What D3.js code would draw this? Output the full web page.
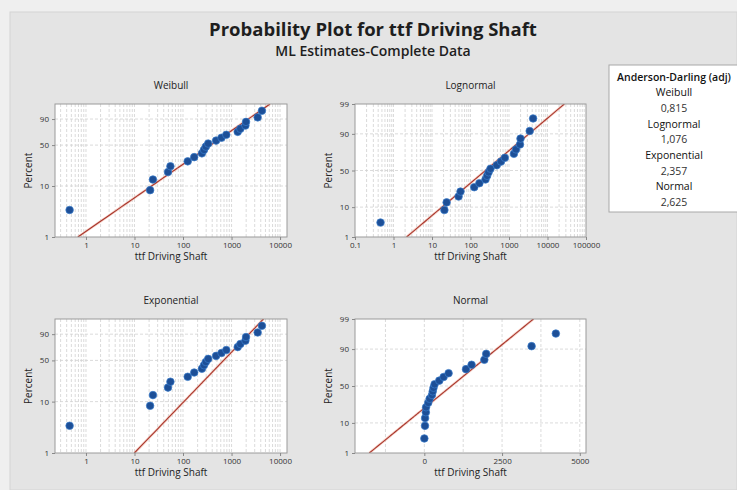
<!DOCTYPE html>
<html>
<head>
<meta charset="utf-8">
<script src="https://cdn.jsdelivr.net/npm/d3@7"></script>
<style>
  html, body { margin: 0; padding: 0; background: #efefef; }
  svg { display: block; font-family: "Open Sans", "Noto Sans", sans-serif; }
</style>
</head>
<body>
<svg id="chart" width="737" height="490"></svg>
<script>
// ---------------- data ----------------
const title = "Probability Plot for ttf Driving Shaft";
const subtitle = "ML Estimates-Complete Data";
const xLabel = "ttf Driving Shaft";
const yLabel = "Percent";

// failure times (sorted)
const ttf = [0.46, 21, 24, 49, 55, 125, 170, 245, 270, 295, 330, 480, 620, 780,
             1340, 1520, 1930, 1990, 3450, 4230];

const panelNames = ["Weibull", "Lognormal", "Exponential", "Normal"];

// fitted distribution parameters
const weibullFit = { shape: 0.672, scale: 640 };
const lognormalFit = { loc: 5.50, scale: 2.028 };
const exponentialFit = { mean: 990 };
const normalFit = { mean: 870, sd: 1135 };

// tick labels
const logTicks = [1, 10, 100, 1000, 10000];
const lognormalXTicks = [0.1, 1, 10, 100, 1000, 10000, 100000];
const normalXTicks = [0, 2500, 5000];
const normalXGrid = [-1250, 0, 1250, 2500, 3750, 5000];
const pctTicksShort = [1, 10, 50, 90];
const pctTicksLong = [1, 10, 50, 90, 99];

// Anderson-Darling legend
const adTitle = "Anderson-Darling (adj)";
const adNames = ["Weibull", "Lognormal", "Exponential", "Normal"];
const adValues = ["0,815", "1,076", "2,357", "2,625"];

// ---------------- helpers ----------------
function invNorm(p) {
  const a = [-3.969683028665376e+01, 2.209460984245205e+02, -2.759285104469687e+02, 1.383577518672690e+02, -3.066479806614716e+01, 2.506628277459239e+00];
  const b = [-5.447609879822406e+01, 1.615858368580409e+02, -1.556989798598866e+02, 6.680131188771972e+01, -1.328068155288572e+01];
  const c = [-7.784894002430293e-03, -3.223964580411365e-01, -2.400758277161838e+00, -2.549671324857222e+00, 4.374664141464968e+00, 2.938163982698783e+00];
  const d = [7.784695709041462e-03, 3.224671290700398e-01, 2.445134137142996e+00, 3.754408661907416e+00];
  const pl = 0.02425, ph = 1 - pl;
  let q, r;
  if (p < pl) { q = Math.sqrt(-2 * Math.log(p));
    return (((((c[0]*q+c[1])*q+c[2])*q+c[3])*q+c[4])*q+c[5]) / ((((d[0]*q+d[1])*q+d[2])*q+d[3])*q+1); }
  if (p <= ph) { q = p - 0.5; r = q*q;
    return (((((a[0]*r+a[1])*r+a[2])*r+a[3])*r+a[4])*r+a[5])*q / (((((b[0]*r+b[1])*r+b[2])*r+b[3])*r+b[4])*r+1); }
  q = Math.sqrt(-2 * Math.log(1 - p));
  return -(((((c[0]*q+c[1])*q+c[2])*q+c[3])*q+c[4])*q+c[5]) / ((((d[0]*q+d[1])*q+d[2])*q+d[3])*q+1);
}
const wTrans = p => Math.log(-Math.log(1 - p));
const n = ttf.length;
const points = ttf.map((v, i) => ({ x: v, p: (i + 1 - 0.3) / (n + 0.4) }));
const fitPs = d3.range(0.01, 0.99001, 0.0049);

const svg = d3.select("#chart");
const W = 737, H = 490;

// background panel
svg.append("rect").attr("x", 0).attr("y", 0).attr("width", W).attr("height", H).attr("fill", "#efefef");
svg.append("rect").attr("x", 10).attr("y", 12).attr("width", W - 10).attr("height", H - 12)
  .attr("fill", "#e4e4e4").attr("stroke", "#d4d4d4").attr("stroke-width", 1);

// titles
svg.append("text").attr("x", 373).attr("y", 36).attr("text-anchor", "middle")
  .attr("font-size", 18.5).attr("font-weight", 700).attr("fill", "#1e1e1e").text(title);
svg.append("text").attr("x", 373).attr("y", 56).attr("text-anchor", "middle")
  .attr("font-size", 14).attr("font-weight", 600).attr("fill", "#1e1e1e").text(subtitle);

// panel definitions
const panels = [
  { name: panelNames[0], box: { l: 55, r: 287, t: 104, b: 237 },
    xScale: d3.scaleLog().domain([0.23, 13900]), xTicks: logTicks, xGrid: "log",
    yKind: "w", yTicks: pctTicksShort,
    inv: p => weibullFit.scale * Math.pow(-Math.log(1 - p), 1 / weibullFit.shape) },
  { name: panelNames[1], box: { l: 355, r: 586, t: 104, b: 237 },
    xScale: d3.scaleLog().domain([0.1, 100000]), xTicks: lognormalXTicks, xGrid: "log",
    yKind: "z", yTicks: pctTicksLong,
    inv: p => Math.exp(lognormalFit.loc + lognormalFit.scale * invNorm(p)) },
  { name: panelNames[2], box: { l: 55, r: 287, t: 319, b: 453 },
    xScale: d3.scaleLog().domain([0.23, 13900]), xTicks: logTicks, xGrid: "log",
    yKind: "w", yTicks: pctTicksShort,
    inv: p => exponentialFit.mean * (-Math.log(1 - p)) },
  { name: panelNames[3], box: { l: 355, r: 586, t: 319, b: 453 },
    xScale: d3.scaleLinear().domain([-2230, 5200]), xTicks: normalXTicks, xGrid: normalXGrid,
    yKind: "z", yTicks: pctTicksLong,
    inv: p => normalFit.mean + normalFit.sd * invNorm(p) }
];

panels.forEach(P => {
  const { l, r, t, b } = P.box;
  const g = svg.append("g");
  const x = P.xScale.range([l, r]);
  const tr = P.yKind === "w" ? wTrans : invNorm;
  const yT = d3.scaleLinear().domain([tr(0.01), tr(0.99)]).range([b, t]);
  const y = pct => yT(tr(pct / 100));

  // panel title
  g.append("text").attr("x", (l + r) / 2).attr("y", t - 15).attr("text-anchor", "middle")
    .attr("font-size", 10).attr("fill", "#222").text(P.name);

  // plot area
  g.append("rect").attr("x", l).attr("y", t).attr("width", r - l).attr("height", b - t)
    .attr("fill", "#ffffff");

  // vertical gridlines
  let gridVals = [];
  if (P.xGrid === "log") {
    const [d0, d1] = x.domain();
    for (let k = -2; k <= 6; k++) for (let m = 1; m <= 9; m++) {
      const v = m * Math.pow(10, k);
      if (v > d0 && v < d1) gridVals.push(v);
    }
  } else gridVals = P.xGrid;
  g.append("g").selectAll("line").data(gridVals).join("line")
    .attr("x1", d => x(d)).attr("x2", d => x(d)).attr("y1", t).attr("y2", b)
    .attr("stroke", "#d2d2d2").attr("stroke-width", 0.8).attr("stroke-dasharray", "3,2");
  // horizontal gridlines
  g.append("g").selectAll("line").data(P.yTicks.filter(v => v > 1 && v < 99)).join("line")
    .attr("x1", l).attr("x2", r).attr("y1", d => y(d)).attr("y2", d => y(d))
    .attr("stroke", "#d2d2d2").attr("stroke-width", 0.8).attr("stroke-dasharray", "3,2");

  // fitted line
  const line = d3.line().x(d => x(P.inv(d))).y(d => yT(tr(d)));
  const clipId = "clip" + P.name;
  g.append("clipPath").attr("id", clipId).append("rect")
    .attr("x", l).attr("y", t).attr("width", r - l).attr("height", b - t);
  g.append("path").datum(fitPs).attr("d", line).attr("fill", "none")
    .attr("stroke", "#f2b8a8").attr("stroke-width", 2.6).attr("opacity", 0.6)
    .attr("clip-path", `url(#${clipId})`);
  g.append("path").datum(fitPs).attr("d", line).attr("fill", "none")
    .attr("stroke", "#a8362c").attr("stroke-width", 1.1)
    .attr("clip-path", `url(#${clipId})`);

  // points
  g.append("g").selectAll("circle").data(points).join("circle")
    .attr("cx", d => x(d.x)).attr("cy", d => yT(tr(d.p))).attr("r", 3.8)
    .attr("fill", "#1d4f97").attr("stroke", "#3a7ccb").attr("stroke-width", 0.7);

  // frame
  g.append("rect").attr("x", l).attr("y", t).attr("width", r - l).attr("height", b - t)
    .attr("fill", "none").attr("stroke", "#9a9a9a").attr("stroke-width", 1);

  // axes
  const fmt = d => d >= 1 || d === 0 ? d3.format("")(d) : String(d);
  const xAxis = d3.axisBottom(x).tickValues(P.xTicks).tickFormat(fmt).tickSize(3).tickPadding(2);
  const gx = g.append("g").attr("transform", `translate(0,${b})`).call(xAxis);
  gx.select(".domain").remove();
  gx.selectAll("line").attr("stroke", "#888");
  gx.selectAll("text").attr("font-size", 8).attr("fill", "#333").attr("font-family", "Open Sans, sans-serif");

  const yAxis = d3.axisLeft(yT).tickValues(P.yTicks.map(v => tr(v / 100)))
    .tickFormat((d, i) => P.yTicks[i]).tickSize(3).tickPadding(3);
  const gy = g.append("g").attr("transform", `translate(${l},0)`).call(yAxis);
  gy.select(".domain").remove();
  gy.selectAll("line").attr("stroke", "#888");
  gy.selectAll("text").attr("font-size", 8).attr("fill", "#333").attr("font-family", "Open Sans, sans-serif");

  // axis labels
  g.append("text").attr("x", (l + r) / 2).attr("y", b + 23).attr("text-anchor", "middle")
    .attr("font-size", 10).attr("fill", "#222").text(xLabel);
  g.append("text").attr("transform", `translate(${l - 23},${(t + b) / 2}) rotate(-90)`)
    .attr("text-anchor", "middle").attr("font-size", 10).attr("fill", "#222").text(yLabel);
});

// legend box
const lg = svg.append("g");
lg.append("rect").attr("x", 609).attr("y", 65).attr("width", 140).attr("height", 147)
  .attr("fill", "#ffffff").attr("stroke", "#a8a8a8").attr("stroke-width", 1);
const lines = [adTitle];
adNames.forEach((nm, i) => { lines.push(nm); lines.push(adValues[i]); });
lg.selectAll("text").data(lines).join("text")
  .attr("x", 674).attr("y", (d, i) => 80.5 + i * 15.7).attr("text-anchor", "middle")
  .attr("font-size", 10.5).attr("font-weight", (d, i) => i === 0 ? 600 : 400)
  .attr("fill", (d, i) => i % 2 === 1 || i === 0 ? "#111" : "#333").text(d => d);
</script>
</body>
</html>
